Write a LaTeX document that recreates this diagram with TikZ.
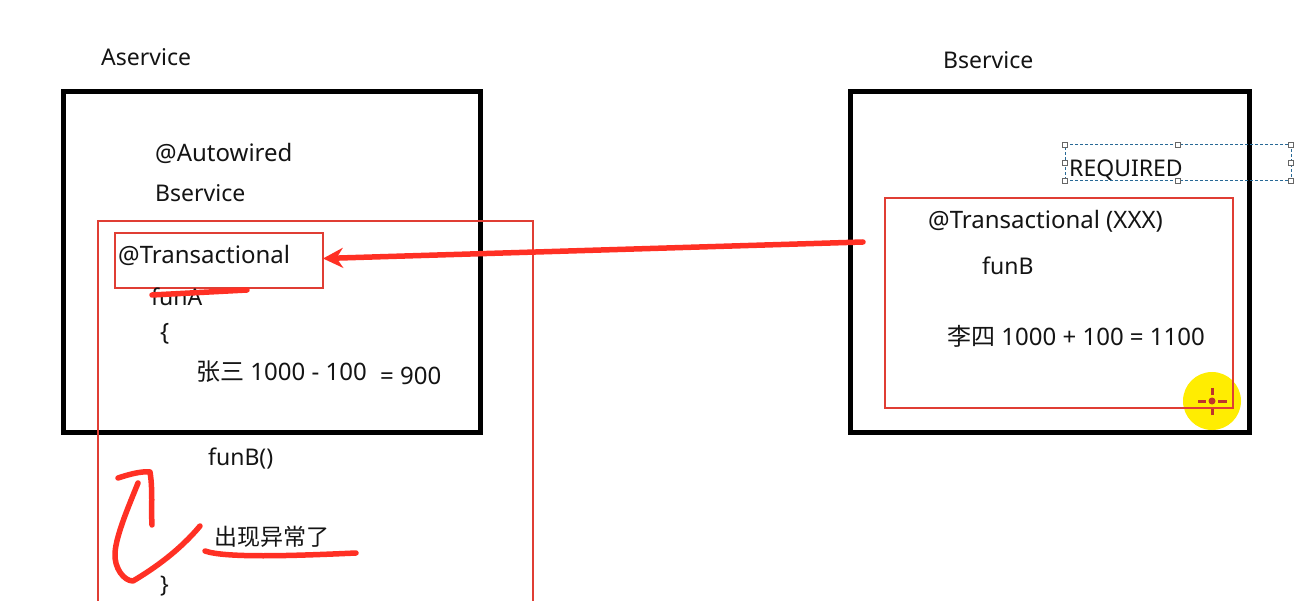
\documentclass[tikz,border=0pt]{standalone}
\usepackage{fontspec}
\setmainfont{Noto Sans}
\newfontfamily\cjk{Noto Sans CJK SC}
\usepackage{tikz}
\usetikzlibrary{arrows.meta,positioning}
\definecolor{markred}{RGB}{255,48,36}
\definecolor{boxred}{RGB}{224,62,52}
\definecolor{selblue}{RGB}{40,105,150}
\tikzset{
  lbl/.style={anchor=west, inner sep=0pt, font=\fontsize{24}{28}\selectfont, text=black!92},
  lblsm/.style={lbl, font=\fontsize{23}{27}\selectfont},
  svcbox/.style={draw=black, line width=5pt, fill=none, inner sep=0pt, outer sep=0pt, anchor=north west},
  redbox/.style={draw=boxred, line width=1.8pt, fill=none, inner sep=0pt, outer sep=0pt, anchor=north west},
  pen/.style={draw=markred, line width=5.5pt, line cap=round, line join=round},
  handle/.style={draw=black!60, fill=white, line width=.8pt, inner sep=0pt, minimum size=5pt}
}
\newcommand{\zh}[1]{{\cjk #1}}
\begin{document}
\begin{tikzpicture}[x=1pt, y=-1pt]
\useasboundingbox (0,0) rectangle (1309,601);
\fill[white] (0,0) rectangle (1309,601);
% service boxes
\node[svcbox, minimum width=417pt, minimum height=340pt] (abox) at (63,92) {};
\node[svcbox, minimum width=399pt, minimum height=340pt] (bbox) at (850,92) {};
\node[lblsm] (aname) at (101,57) {Aservice};
\node[lblsm] (bname) at (943,60) {Bservice};
% pointer
\node[circle, fill=yellow!95!orange, minimum size=58pt, inner sep=0pt] (ptr) at (1212,401) {};
\fill[boxred!85!black] (ptr) circle (3.5pt);
\draw[boxred!85!black, line width=3pt] (1212,388) -- (1212,395) (1212,407) -- (1212,415) (1198,401) -- (1206,401) (1218,401) -- (1227,401);
% left side
\draw[redbox] (98,601) -- (98,221) -- (533,221) -- (533,601);
\node[redbox, minimum width=208pt, minimum height=55pt] (txbox) at (115,233) {};
\node[lbl] (autow) at (155,153) {@Autowired};
\node[lblsm] (bsvc) at (155,193) {Bservice};
\node[lbl] (txa) at (118,255) {@Transactional};
\node[lblsm] (funa) at (151,297) {funA};
\node[lbl] (open) at (160,334) {\{};
\node[lbl] (zhang) at (196,372) {\zh{张三} 1000 - 100};
\node[lbl] (res) at (380,376) {= 900};
\node[lblsm] (funbcall) at (208,459) {funB()};
\node[lblsm] (err) at (214,537) {\zh{出现异常了}};
\node[lblsm] (close) at (160,586) {\}};
% right side
\node[redbox, minimum width=348pt, minimum height=210pt] (fbox) at (885,198) {};
\node[lbl] (txb) at (928,221) {@Transactional (XXX)};
\node[lblsm] (funb) at (982,266) {funB};
\node[lbl] (li) at (947,336) {\zh{李四} 1000 + 100 = 1100};
% selected text frame
\node[lblsm] (req) at (1069,170) {REQUIRED};
\node[draw=selblue, densely dashed, line width=1pt, inner sep=0pt, outer sep=0pt, minimum width=226pt, minimum height=36pt, anchor=north west] (sel) at (1065,145) {};
\foreach \a in {north west,north,north east,west,east,south west,south,south east}
  \node[handle] at (sel.\a) {};
% pen strokes
\coordinate (astart) at (863,242);
\draw[pen, -{Stealth[length=20pt,width=20pt]}] (astart) -- ([yshift=2pt]txbox.east);
\draw[pen] (152,295) -- (247,290);
\draw[pen] (205,551) .. controls (225,558) and (290,556) .. (356,553);
\draw[pen] (200,526) .. controls (180,550) and (155,568) .. (133,581) .. controls (124,581) and (114,568) .. (115,553) .. controls (116,535) and (130,503) .. (138,483);
\draw[pen] (118,478) .. controls (130,474) and (142,471) .. (150,472) .. controls (153,490) and (151,510) .. (152,525);
\end{tikzpicture}
\end{document}
